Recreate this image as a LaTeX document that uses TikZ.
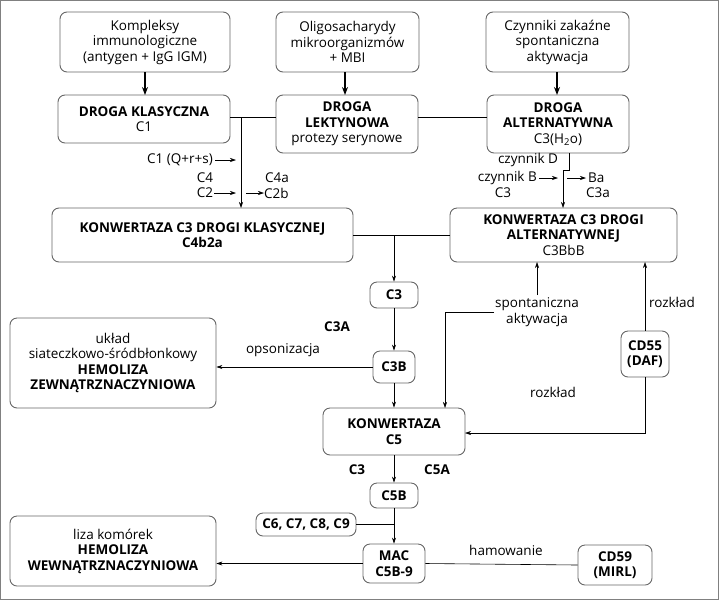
\documentclass[tikz,border=0pt]{standalone}
\usepackage{fontspec}
\setmainfont{Open Sans}
\usetikzlibrary{arrows.meta}
\begin{document}
\begin{tikzpicture}[x=1pt,y=-1pt,
 bx/.style={draw=black!60,rounded corners=7pt,line width=0.9pt,align=center,inner sep=0pt},
 lbl/.style={inner sep=0pt,align=center,font=\fontsize{13.5}{15.5}\selectfont},
 arr/.style={-{Stealth[length=6pt,width=4pt]},line width=0.6pt},
 thk/.style={-{Stealth[length=8pt,width=6pt]},line width=1.8pt},
 ln/.style={line width=0.6pt}]
\useasboundingbox (0,0) rectangle (719,600);
\draw[black!50,line width=1pt] (0.5,0.5) rectangle (718.5,599.5);
\newcommand\bxat[5]{\node[bx,minimum width=#3-#1,minimum height=#4-#2] (#5) at ({(#1+#3)/2},{(#2+#4)/2}) {};}
\bxat{60}{12}{230}{72}{t1}\node[lbl] at (t1) {Kompleksy\\immunologiczne\\(antygen + IgG IGM)};
\bxat{276}{12}{419}{72}{t2}\node[lbl] at (t2) {Oligosacharydy\\mikroorganizmów\\+ MBI};
\bxat{486}{12}{629}{72}{t3}\node[lbl] at (t3) {Czynniki zakaźne\\spontaniczna\\aktywacja};
\bxat{58}{95}{230}{143}{dk}\node[lbl] at (dk) {\textbf{DROGA KLASYCZNA}\\C1};
\bxat{276}{95}{418}{153}{dl}\node[lbl] at (dl) {\textbf{DROGA}\\\textbf{LEKTYNOWA}\\protezy serynowe};
\bxat{487}{95}{629}{153}{da}\node[lbl] at (da) {\textbf{DROGA}\\\textbf{ALTERNATYWNA}\\C3(H\textsubscript{2}o)};
\draw[thk] (t1.south -| 145,0) -- (145,95);
\draw[thk] (t2.south -| 345,0) -- (345,95);
\draw[thk] (t3.south -| 557,0) -- (557,95);
\bxat{52}{208}{353}{262}{kk}\node[lbl] at (kk) {\textbf{KONWERTAZA C3 DROGI KLASYCZNEJ}\\\textbf{C4b2a}};
\bxat{450}{208}{677}{262}{ka}\node[lbl] at (ka) {\textbf{KONWERTAZA C3 DROGI}\\\textbf{ALTERNATYWNEJ}\\C3BbB};
\draw[ln] (dk.east |- 0,117) -- (dl.west |- 0,117);
\draw[ln] (dl.east |- 0,117) -- (da.west |- 0,117);
\draw[arr] (241,117) -- (241,208);
\node[lbl,anchor=east] at (213,160) {C1 (Q+r+s)};
\draw[arr] (215,160) -- (236,160);
\node[lbl] at (205,178) {C4};
\node[lbl] at (205,193) {C2};
\draw[arr] (214,193) -- (236,193);
\draw[arr] (246,193) -- (264,193);
\node[lbl,anchor=west] at (264,193) {C2b};
\node[lbl] at (277,178) {C4a};
\draw[arr] (569,153) -- (569,170) -- (563,170) -- (563,208);
\node[lbl] at (528,160) {czynnik D};
\node[lbl,anchor=east] at (537,178) {czynnik B};
\draw[arr] (539,178) -- (558,178);
\draw[arr] (567,178) -- (586,178);
\node[lbl,anchor=west] at (588,178) {Ba};
\node[lbl] at (503,193) {C3};
\node[lbl] at (598,193) {C3a};
\bxat{370}{282}{418}{308}{c3}\node[lbl] at (c3) {\textbf{C3}};
\draw[ln] (kk.east |- 0,235) -- (ka.west |- 0,235);
\draw[arr] (394,235) -- (c3.north);
\node[lbl] at (337,327) {\textbf{C3A}};
\bxat{373}{351}{415}{383}{c3b}\node[lbl] at (c3b) {\textbf{C3B}};
\draw[arr] (c3) -- (c3b);
\bxat{10}{318}{216}{408}{zew}\node[lbl] at (zew) {układ\\siateczkowo-śródbłonkowy\\\textbf{HEMOLIZA}\\\textbf{ZEWNĄTRZNACZYNIOWA}};
\node[lbl] at (283,350) {opsonizacja};
\draw[arr] (c3b.west) -- (zew.east |- c3b.west);
\bxat{323}{408}{465}{455}{c5}\node[lbl] at (c5) {\textbf{KONWERTAZA}\\\textbf{C5}};
\draw[arr] (c3b) -- (c5.north -| c3b);
\node[lbl] (sp) at (537,312) {spontaniczna\\aktywacja};
\draw[arr] (537,295) -- (537,262);
\draw[arr] (494,312) -- (445,312) -- (445,408);
\bxat{621}{331}{669}{377}{cd55}\node[lbl] at (cd55) {\textbf{CD55}\\\textbf{(DAF)}};
\node[lbl] at (672,302) {rozkład};
\draw[arr] (cd55.north) -- (645,262);
\draw[arr] (cd55.south) -- (645,433) -- (465,433);
\node[lbl] at (553,392) {rozkład};
\node[lbl] at (357,470) {\textbf{C3}};
\node[lbl] at (437,470) {\textbf{C5A}};
\bxat{370}{483}{418}{508}{c5b}\node[lbl] at (c5b) {\textbf{C5B}};
\draw[arr] (c5.south -| c5b) -- (c5b.north);
\bxat{256}{513}{356}{536}{c6}\node[lbl] at (c6) {\textbf{C6, C7, C8, C9}};
\bxat{363}{544}{425}{583}{mac}\node[lbl] at (mac) {\textbf{MAC}\\\textbf{C5B-9}};
\draw[arr] (c5b) -- (mac.north -| c5b);
\draw[ln] (c6.east) -- (394,524.5);
\bxat{10}{516}{216}{586}{wew}\node[lbl] at (wew) {liza komórek\\\textbf{HEMOLIZA}\\\textbf{WEWNĄTRZNACZYNIOWA}};
\draw[arr] (mac.west) -- (wew.east |- mac.west);
\bxat{578}{545}{652}{585}{cd59}\node[lbl] at (cd59) {\textbf{CD59}\\\textbf{(MIRL)}};
\node[lbl] at (506,550) {hamowanie};
\draw[ln] (cd59.west) -- (mac.east);
\end{tikzpicture}
\end{document}
